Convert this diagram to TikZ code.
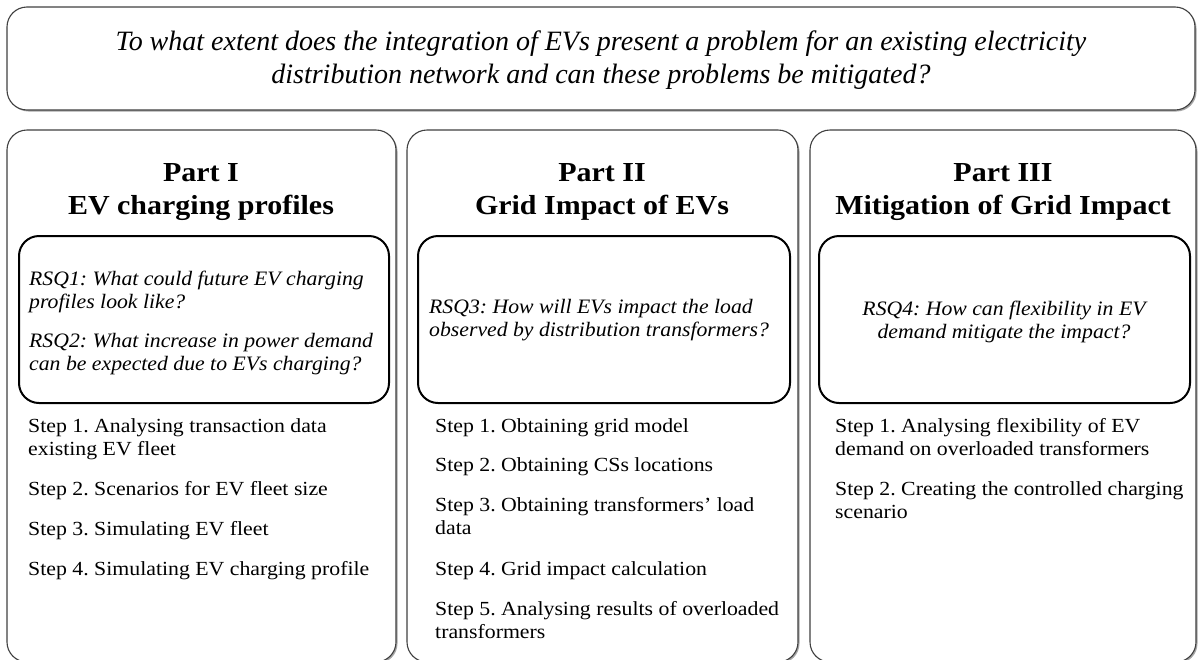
\documentclass[tikz,border=0pt]{standalone}
\usepackage{fontspec}
\setmainfont{Liberation Serif}
\frenchspacing
\usetikzlibrary{shadows}

\tikzset{
  boxshadow/.style={drop shadow={shadow xshift=1.5pt,shadow yshift=-1.5pt,opacity=0.35,fill=black}},
  outerbox/.style={draw=black!75,line width=1.1pt,rounded corners=20pt,fill=white,boxshadow},
  rsqbox/.style={draw=black,line width=2pt,rounded corners=20pt},
  question/.style={font=\fontsize{28}{33}\selectfont\itshape,align=center,inner sep=0pt},
  parttitle/.style={font=\fontsize{27.5}{33}\selectfont\bfseries,align=center,inner sep=0pt,xscale=1.09},
  rsqtext/.style={font=\fontsize{20.5}{23}\selectfont\itshape,inner sep=0pt,xscale=1.06},
  steptext/.style={font=\fontsize{20}{23}\selectfont,align=left,anchor=base west,inner sep=0pt,xscale=1.09}
}

\begin{document}
\begin{tikzpicture}[x=1pt,y=-1pt]
    \useasboundingbox (0,0) rectangle (1198,659);

    % main question
    \draw[outerbox] (7,7) rectangle (1195,110);
    \node[question,anchor=base] (Q) at (601,83) {To what extent does the integration of EVs present a problem for an existing electricity\\ distribution network and can these problems be mitigated?};

    % part I
    \draw[outerbox] (7,130) rectangle (396,662);
    \node[parttitle,anchor=base] (P1) at (201,214) {Part I\\ EV charging profiles};
    \draw[rsqbox] (19,236) rectangle (389,403);
    \node[rsqtext,align=left,anchor=base west] (RSQ1) at (29,308) {RSQ1: What could future EV charging\\ profiles look like?};
    \node[rsqtext,align=left,anchor=base west] (RSQ2) at (29,370) {RSQ2: What increase in power demand\\ can be expected due to EVs charging?};
    \node[steptext] (S11) at (28,455) {Step 1. Analysing transaction data\\ existing EV fleet};
    \node[steptext] (S12) at (28,495) {Step 2. Scenarios for EV fleet size};
    \node[steptext] (S13) at (28,535) {Step 3. Simulating EV fleet};
    \node[steptext] (S14) at (28,575) {Step 4. Simulating EV charging profile};

    % part II
    \draw[outerbox] (407,130) rectangle (798,662);
    \node[parttitle,anchor=base] (P2) at (602,214) {Part II\\ Grid Impact of EVs};
    \draw[rsqbox] (418,236) rectangle (790,403);
    \node[rsqtext,align=left,anchor=base west] (RSQ3) at (429,336) {RSQ3: How will EVs impact the load\\ observed by distribution transformers?};
    \node[steptext] (S21) at (435,432) {Step 1. Obtaining grid model};
    \node[steptext] (S22) at (435,471) {Step 2. Obtaining CSs locations};
    \node[steptext] (S23) at (435,534) {Step 3. Obtaining transformers’ load\\ data};
    \node[steptext] (S24) at (435,575) {Step 4. Grid impact calculation};
    \node[steptext] (S25) at (435,638) {Step 5. Analysing results of overloaded\\ transformers};

    % part III
    \draw[outerbox] (810,130) rectangle (1196,662);
    \node[parttitle,anchor=base] (P3) at (1003,214) {Part III\\ Mitigation of Grid Impact};
    \draw[rsqbox] (819,236) rectangle (1190,403);
    \node[rsqtext,align=center,anchor=base] (RSQ4) at (1004,338) {RSQ4: How can flexibility in EV\\ demand mitigate the impact?};
    \node[steptext] (S31) at (835,455) {Step 1. Analysing flexibility of EV\\ demand on overloaded transformers};
    \node[steptext] (S32) at (835,518) {Step 2. Creating the controlled charging\\ scenario};
\end{tikzpicture}
\end{document}
